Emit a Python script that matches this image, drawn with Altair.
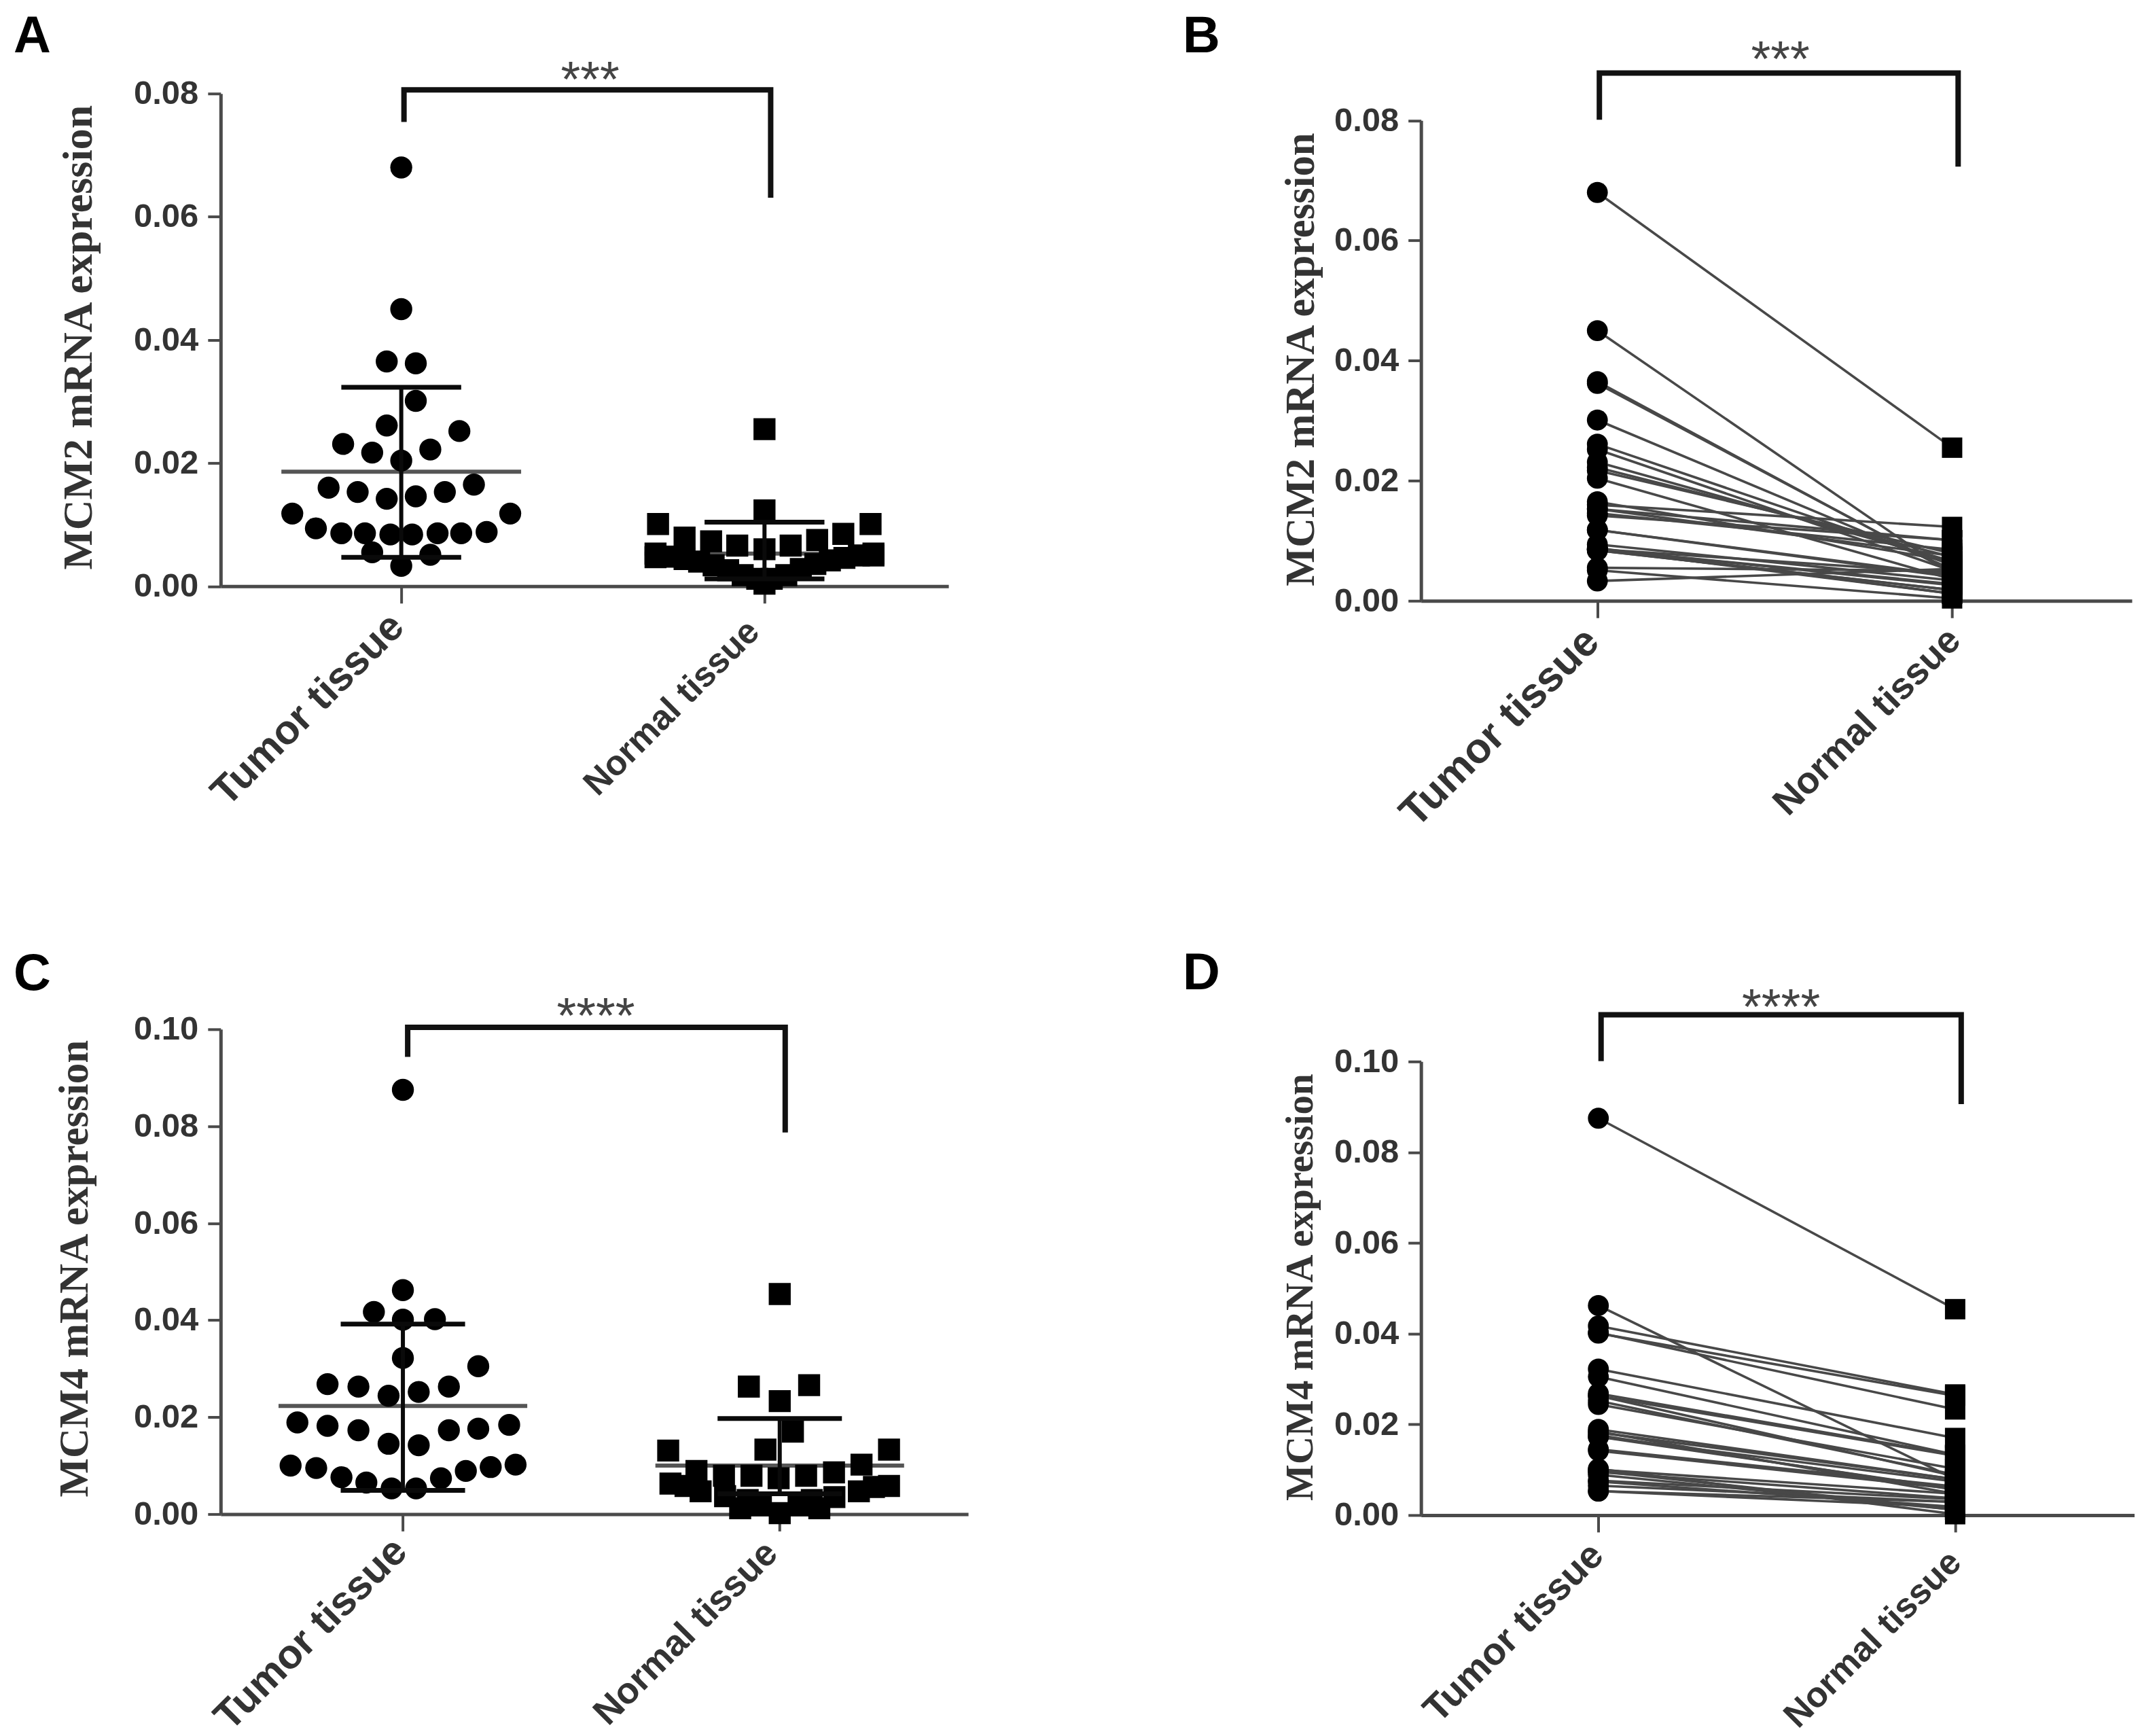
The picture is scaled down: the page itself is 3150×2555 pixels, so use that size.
import altair as alt
import pandas as pd

CATEGORIES = ["Tumor tissue", "Normal tissue"]

# Panel A / B values
a_tumor_dx = [0, 0, -.04, .04, .04, -.04, .16, -.16, -.08, .08, 0, -.2, -.12, -.04, .04, .12, .2, -.3, .3,
              -.235, -.165, -.1, -.03, .03, .1, .165, .235, -.08, .08, 0]
a_tumor_y = [.068, .045, .0365, .0362, .0301, .0261, .0252, .0231, .0217, .0222, .0204, .016, .0153, .0142, .0146,
             .0153, .0165, .0118, .0118, .0094, .0086, .0086, .0084, .0084, .0086, .0086, .0088, .0055, .0051, .0033]
a_normal_dx = [0, 0, -.293, .292, -.22, .217, -.147, .145, -.075, .072, 0, -.3, .3, -.3, .3, -.26, .26, -.22, .22,
               -.18, .18, -.14, .14, -.1, .1, -.06, .06, -.02, .02, 0]
a_normal_y = [.0255, .0123, .0101, .0101, .0079, .0085, .0073, .0075, .0066, .0066, .006, .0053, .0053, .0047, .005,
              .0048, .005, .0044, .0046, .004, .0042, .0034, .0036, .0026, .0028, .0018, .0018, .0012, .0012, .0004]
a_tumor_stats = [.0186, .0323, .0047]
a_normal_stats = [.0053, .0104, .0012]
b_pair_normal = [.0255, .0044, .0047, .0048, .0053, .006, .005, .0066, .0079, .0073, .0036, .0123, .0101, .0101, .0085,
                 .0075, .0066, .0042, .004, .0034, .0028, .0026, .0018, .0018, .0012, .0046, .0012, .005, .0004, .0053]

# Panel C / D values
c_tumor_dx = [0, 0, -.077, 0, .085, 0, .2, -.2, -.118, -.038, .042, .122, -.28, -.2, -.118, -.038, .042, .122, .2,
              .282, -.298, -.23, -.163, -.097, -.03, .035, .101, .167, .233, .299]
c_tumor_y = [.0875, .0462, .0417, .0401, .0402, .0322, .0305, .0268, .0263, .0244, .0252, .0263, .0189, .0182, .0173,
             .0145, .0142, .0173, .0176, .0184, .01, .0095, .0076, .0065, .0053, .0053, .0074, .0089, .0097, .0102]
c_normal_dx = [0, -.082, .078, 0, .035, -.038, -.296, .29, .217, -.221, -.148, -.075, -.003, .07, .144,
               -.29, .29, -.25, .25, -.21, .21, -.145, .145, -.085, .085, -.05, .05, -.105, .105, 0]
c_normal_y = [.0454, .0263, .0266, .0233, .017, .0133, .0131, .0133, .0102, .0089, .0079, .0079, .0074, .0079, .0086,
              .0063, .0058, .0058, .0056, .0047, .0047, .0037, .0035, .0029, .0029, .0018, .0018, .0012, .0012, .0002]
c_tumor_stats = [.0223, .0392, .0049]
c_normal_stats = [.01, .0197, .0042]
d_pair_normal = [.0454, .0079, .0266, .0263, .0233, .017, .0133, .0133, .0131, .0102, .0089, .0086, .0079, .0079, .0074,
                 .0063, .0058, .0058, .0056, .0047, .0047, .0037, .0035, .0029, .0029, .0018, .0018, .0012, .0012, .0002]

LABEL_COLOR = "#333333"
AXIS_COLOR = "#4a4a4a"
INK = "#0a0a0a"


def by_category(first, second):
    return {"condition": {"test": "datum.value == 1", "value": first}, "value": second}


def encodings(p):
    inset = p.get("inset", 0)
    total = p["h"] + inset
    x = alt.X("x:Q", scale=alt.Scale(domain=p["xdom"], nice=False, zero=False),
              axis=alt.Axis(values=[1, 2], title=None, grid=False,
                            labelExpr=f"datum.value == 1 ? '{CATEGORIES[0]}' : '{CATEGORIES[1]}'",
                            labelAngle=315, labelAlign="right", labelBaseline="middle", labelLimit=1000,
                            labelFont="Liberation Sans", labelFontWeight="bold",
                            labelFontSize=by_category(*p["xfs"]),
                            labelOffset=by_category(*p["xoff"]),
                            labelPadding=by_category(*p["xpad"]),
                            labelColor=LABEL_COLOR, labelOverlap=False, labelBound=False,
                            labelFlush=False, tickSize=25, tickWidth=4, tickColor=AXIS_COLOR,
                            domainWidth=5, domainColor=AXIS_COLOR))
    y = alt.Y("y:Q", scale=alt.Scale(domain=[0, p["ymax"]], range=[total, inset], nice=False, zero=True),
              axis=alt.Axis(values=p["yticks"], format=".2f", title=p["ytitle"], grid=False,
                            titleFont="Liberation Serif", titleFontWeight="bold", titleFontSize=p["tfs"],
                            titleColor="#333333", titleAngle=270, titleX=p["tx"],
                            titleY=inset + p["h"] / 2 + p["tdy"],
                            titleAlign="center", titleBaseline="alphabetic",
                            labelFont="Liberation Sans", labelFontWeight="bold", labelFontSize=49,
                            labelColor=LABEL_COLOR, labelPadding=14, labelOverlap=False, labelBound=False,
                            labelFlush=False, tickSize=19, tickWidth=4, tickColor=AXIS_COLOR,
                            domainWidth=5, domainColor=AXIS_COLOR))
    return x, y


def shared_layers(p, x, y):
    bracket = pd.DataFrame({"x": [p["bx"][0], p["bx"][0], p["bx"][1], p["bx"][1]],
                            "y": [p["by"][0], p["by"][1], p["by"][1], p["by"][2]],
                            "i": [0, 1, 2, 3]})
    br = alt.Chart(bracket).mark_line(color="#111111", strokeWidth=8, strokeJoin="miter", strokeCap="butt").encode(
        x=x, y=y, order="i:Q")
    stars = alt.Chart(pd.DataFrame({"x": [p["sx"]], "y": [p["sy"]], "t": [p["stars"]]})).mark_text(
        font="Liberation Sans", fontSize=74, color="#444444", baseline="middle", align="center").encode(
        x=x, y=y, text="t:N")
    letter = alt.Chart(pd.DataFrame({"t": [p["letter"]]})).mark_text(
        font="Liberation Sans", fontWeight="bold", fontSize=76, color="#000000", align="left", baseline="top").encode(
        x=alt.value(p["lx"]), y=alt.value(p["ly"]), text="t:N")
    return [br, stars, letter]


def scatter_panel(p, t_dx, t_y, n_dx, n_y, t_stats, n_stats):
    x, y = encodings(p)
    tumor = pd.DataFrame({"x": [1 + d for d in t_dx], "y": t_y})
    normal = pd.DataFrame({"x": [2 + d for d in n_dx], "y": n_y})
    layers = []
    for c, stats in ((1, t_stats), (2, n_stats)):
        layers.append(alt.Chart(pd.DataFrame({"x": [c - .33], "x2": [c + .33], "y": [stats[0]]})).mark_rule(
            color="#555555", strokeWidth=6).encode(x=x, x2="x2:Q", y=y))
    layers.append(alt.Chart(tumor).mark_point(shape="circle", filled=True, size=1050, color="#000000", opacity=1).encode(x=x, y=y))
    layers.append(alt.Chart(normal).mark_point(shape="square", filled=True, size=1050, color="#000000", opacity=1).encode(x=x, y=y))
    for c, stats in ((1, t_stats), (2, n_stats)):
        mean, hi, lo = stats
        layers.append(alt.Chart(pd.DataFrame({"x": [c], "y": [lo], "y2": [hi]})).mark_rule(
            color=INK, strokeWidth=6).encode(x=x, y=y, y2="y2:Q"))
        layers.append(alt.Chart(pd.DataFrame({"x": [c - .165, c - .165], "x2": [c + .165, c + .165], "y": [hi, lo]})).mark_rule(
            color=INK, strokeWidth=7).encode(x=x, x2="x2:Q", y=y))
    layers += shared_layers(p, x, y)
    return alt.layer(*layers).properties(width=p["w"], height=p["h"] + p.get("inset", 0))


def paired_panel(p, t_y, n_y):
    x, y = encodings(p)
    rows = []
    for i, (a, b) in enumerate(zip(t_y, n_y)):
        rows.append({"x": 1, "y": a, "pair": i})
        rows.append({"x": 2, "y": b, "pair": i})
    df = pd.DataFrame(rows)
    lines = alt.Chart(df).mark_line(color="#484848", strokeWidth=3.6).encode(x=x, y=y, detail="pair:N")
    circles = alt.Chart(df[df.x == 1]).mark_point(shape="circle", filled=True, size=950, color="#000000", opacity=1).encode(x=x, y=y)
    squares = alt.Chart(df[df.x == 2]).mark_point(shape="square", filled=True, size=900, color="#000000", opacity=1).encode(x=x, y=y)
    return alt.layer(lines, circles, squares, *shared_layers(p, x, y)).properties(width=p["w"], height=p["h"] + p.get("inset", 0))


ticks_08 = [0, .02, .04, .06, .08]
ticks_10 = [0, .02, .04, .06, .08, .10]

A = dict(letter="A", w=1072, h=725.5, ymax=.08, yticks=ticks_08, xdom=[.5028, 2.5065], ytitle="MCM2 mRNA expression",
         tfs=62, tx=-190, tdy=-4, xfs=(60, 51.5), xoff=(-6, -16), xpad=(25, 34), bx=[1.0075, 2.017],
         by=[.0754, .0806, .0631], sx=1.52, sy=.082, stars="***", lx=-305, ly=-120.5)
B = dict(letter="B", w=1047, h=707.5, inset=39.5, ymax=.08, yticks=ticks_08, xdom=[.5029, 2.5067], ytitle="MCM2 mRNA expression",
         tfs=60.5, tx=-158, tdy=-2, xfs=(62, 55), xoff=(-8, 3), xpad=(25, 24), bx=[1.0057, 2.017],
         by=[.0801, .0879, .0723], sx=1.516, sy=.0899, stars="***", lx=-351, ly=-120.5)
C = dict(letter="C", w=1101, h=714, ymax=.10, yticks=ticks_10, xdom=[.5164, 2.5], ytitle="MCM4 mRNA expression",
         tfs=61, tx=-196, tdy=-5, xfs=(60, 54), xoff=(-4, -12), xpad=(20, 24), bx=[1.0127, 2.0145],
         by=[.0943, .1004, .0787], sx=1.512, sy=.1023, stars="****", lx=-305, ly=-118)
D = dict(letter="D", w=1051, h=668, ymax=.10, yticks=ticks_10, xdom=[.5029, 2.5029], ytitle="MCM4 mRNA expression",
         tfs=57, tx=-160, tdy=-2, xfs=(56, 52), xoff=(-2, 0), xpad=(25, 36), bx=[1.0076, 2.017],
         by=[.1001, .1103, .0906], sx=1.512, sy=.1116, stars="****", lx=-351, ly=-166)

panel_a = scatter_panel(A, a_tumor_dx, a_tumor_y, a_normal_dx, a_normal_y, a_tumor_stats, a_normal_stats)
panel_b = paired_panel(B, a_tumor_y, b_pair_normal)
panel_c = scatter_panel(C, c_tumor_dx, c_tumor_y, c_normal_dx, c_normal_y, c_tumor_stats, c_normal_stats)
panel_d = paired_panel(D, c_tumor_y, d_pair_normal)

left = alt.vconcat(panel_a, panel_c, spacing=652, bounds="flush")
right = alt.vconcat(panel_b, panel_d, spacing=678.5, bounds="flush")

chart = alt.hconcat(left, right, spacing=316).properties(
    padding={"left": 12, "top": 7, "right": 0, "bottom": 0}, background="white"
).configure_view(stroke=None)

chart.save("out.html", embed_options={"renderer": "svg", "actions": False})
